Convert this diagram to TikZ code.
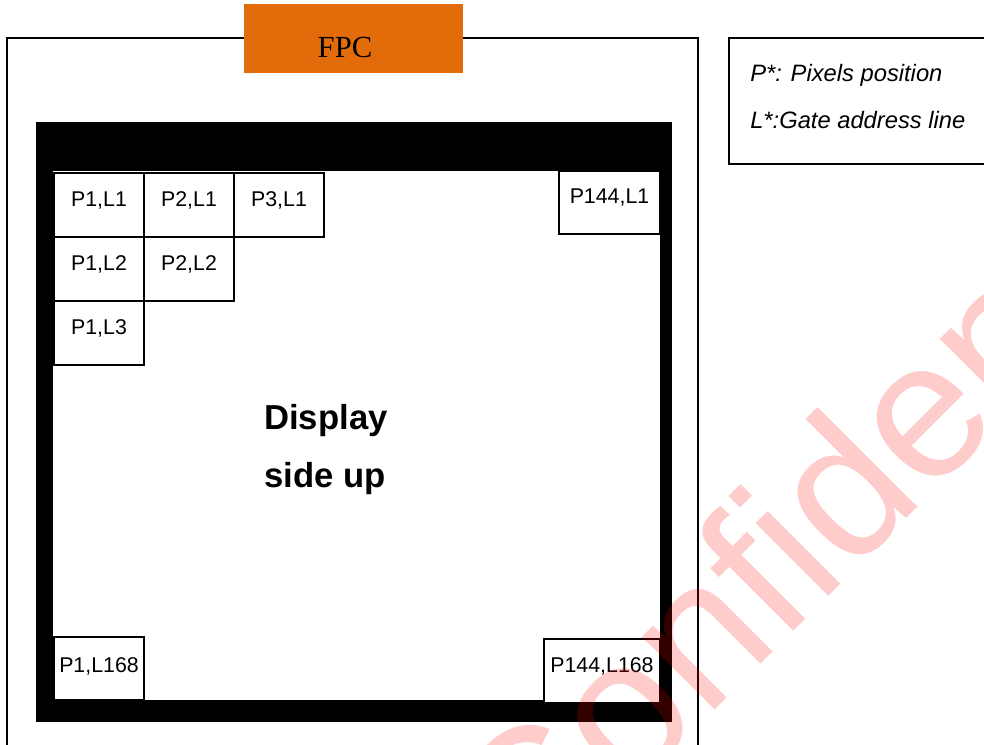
\documentclass[tikz,border=0pt]{standalone}
\usepackage{fontspec}
\setmainfont{Liberation Sans}
\newfontfamily\fpcfont{Liberation Serif}
\definecolor{fpcorange}{RGB}{227,108,10}

\begin{document}
\begin{tikzpicture}[x=0.75pt, y=-0.75pt,
        every node/.style={inner sep=0pt},
        cell/.style={draw, line width=1pt, fill=white},
        celltext/.style={anchor=base, font=\fontsize{16}{19}\selectfont},
        note/.style={anchor=base west, font=\itshape\fontsize{17.8}{21}\selectfont},
        bigtext/.style={anchor=base west, font=\bfseries\fontsize{26}{31}\selectfont}]
        \useasboundingbox (0,0) rectangle (984,744);
        
        % board outline and legend
        \draw[line width=1.4pt] (7,38) rectangle (698,760);
        \draw[line width=1.2pt] (729,38) rectangle (990,164);
        \node[note] (pnote) at (750,81) {P*: Pixels position};
        \node[note] (lnote) at (750,128) {L*:Gate address line};
        
        % FPC tab
        \fill[fpcorange] (244,4) rectangle (463,73);
        \node[anchor=base, font=\fpcfont\fontsize{23}{27}\selectfont] (fpc) at (345,57) {FPC};
        
        % black frame round the active area
        \fill[black] (36,122) rectangle (672,722);
        \fill[white] (53,171) rectangle (660,700);
        
        % pixel cells in the first corner
        \foreach \cx/\cy/\lbl in {54/173/{P1,L1}, 144/173/{P2,L1}, 234/173/{P3,L1},
                                  54/237/{P1,L2}, 144/237/{P2,L2}, 54/301/{P1,L3}}{
            \draw[cell] (\cx,\cy) rectangle ++(90,64);
            \node[celltext] (cell-\cx-\cy) at (\cx+45,\cy+33) {\lbl};
        }
        
        % the other three corners
        \draw[cell] (559,171) rectangle (660,234);
        \node[celltext] (lastpix) at (609.5,203) {P144,L1};
        \draw[cell] (54,637) rectangle (144,700);
        \node[celltext] (lastline) at (99,672) {P1,L168};
        \draw[cell] (544,639) rectangle (660,703);
        \node[celltext] (lastcell) at (602,672) {P144,L168};
        
        \node[bigtext] (disp) at (264,429) {Display};
        \node[bigtext] (sideup) at (264,487) {side up};
        
        % watermark
        \node[rotate=45, anchor=base west, text=red, text opacity=0.2,
              font=\fontsize{146}{150}\selectfont] (wmark) at (529,896) {Confidential};
    \end{tikzpicture}
\end{document}
